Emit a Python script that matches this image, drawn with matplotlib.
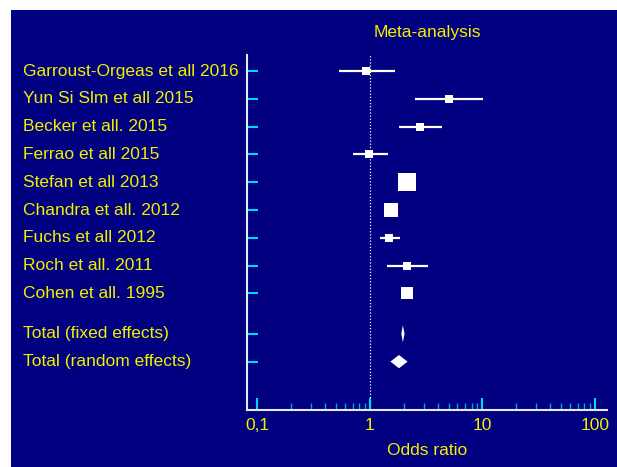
import matplotlib.pyplot as plt
from matplotlib.patches import Rectangle
from matplotlib.transforms import blended_transform_factory
from matplotlib.ticker import FixedLocator, NullFormatter

# Данные исследований
studies = ['Garroust-Orgeas et all 2016', 'Yun Si Slm et all 2015', 'Becker et all. 2015',
           'Ferrao et all 2015', 'Stefan et all 2013', 'Chandra et all. 2012',
           'Fuchs et all 2012', 'Roch et all. 2011', 'Cohen et all. 1995']
odds = [0.93, 5.04, 2.78, 0.99, 2.12, 1.55, 1.48, 2.12, 2.12]
ci_low = [0.53, 2.51, 1.82, 0.71, 1.98, 1.45, 1.22, 1.42, 2.02]
ci_high = [1.67, 10.2, 4.39, 1.44, 2.27, 1.65, 1.86, 3.26, 2.22]
box_sizes = [6, 6, 6, 6, 13, 10.5, 6, 6, 9]

totals = ['Total (fixed effects)', 'Total (random effects)']
tot_odds = [1.96, 1.81]
tot_low = [1.90, 1.52]
tot_high = [2.03, 2.16]
tot_half = [0.31, 0.24]

xticks = [0.1, 1, 10, 100]
xticklabels = ['0,1', '1', '10', '100']
xminor = [d * m for d in (0.1, 1, 10) for m in range(2, 10)]

navy = '#000080'
yellow = '#f0f000'
cyan = '#00d8f0'

fig = plt.figure(figsize=(6.17, 4.67), dpi=100)
fig.patch.set_facecolor('white')
fig.add_artist(Rectangle((11 / 617, 0), 1, 1 - 10 / 467, transform=fig.transFigure,
                         facecolor=navy, edgecolor='none', zorder=-5))

ax = fig.add_axes([247 / 617, 1 - 410 / 467, 360 / 617, 355 / 467])
ax.set_zorder(1)
ax.patch.set_alpha(0)
ax.set_xscale('log')
ax.set_xlim(0.0807, 128)

rows = list(range(len(studies)))
tot_rows = [9.45, 10.45]
ax.set_ylim(12.19, -0.576)

# Линия OR = 1
ax.axvline(1, color='white', linestyle=(0, (1, 1.5)), linewidth=0.9, zorder=1)

for y, o, lo, hi, s in zip(rows, odds, ci_low, ci_high, box_sizes):
    ax.plot([lo, hi], [y, y], color='white', linewidth=1.6, zorder=2, solid_capstyle='butt')
    ax.plot(o, y, marker='s', markersize=s, color='white', markeredgewidth=0, zorder=3)

for y, o, lo, hi, h in zip(tot_rows, tot_odds, tot_low, tot_high, tot_half):
    ax.fill([lo, o, hi, o], [y, y - h, y, y + h], color='white', linewidth=0, zorder=3)

# Оси
for side in ['top', 'right']:
    ax.spines[side].set_visible(False)
for side in ['left', 'bottom']:
    ax.spines[side].set_color('#e8e8f0')
    ax.spines[side].set_linewidth(1.5)

ax.yaxis.set_major_locator(FixedLocator(rows + tot_rows))
ax.yaxis.set_major_formatter(NullFormatter())
ax.tick_params(axis='y', direction='in', length=8, width=1.5, color=cyan)

ax.xaxis.set_major_locator(FixedLocator(xticks))
ax.set_xticklabels(xticklabels)
ax.xaxis.set_minor_locator(FixedLocator(xminor))
ax.xaxis.set_minor_formatter(NullFormatter())
ax.tick_params(axis='x', which='major', direction='in', length=9, width=1.5,
               color=cyan, labelcolor=yellow, labelsize=12.5, pad=6)
ax.tick_params(axis='x', which='minor', direction='in', length=5, width=1, color='#00a8d8')

trans = blended_transform_factory(fig.transFigure, ax.transData)
for y, name in zip(rows + tot_rows, studies + totals):
    ax.text(23 / 617, y, name, transform=trans, color=yellow, fontsize=12.5,
            family='Liberation Sans', ha='left', va='center', clip_on=False)

for lbl in ax.get_xticklabels():
    lbl.set_family('Liberation Sans')

ax.set_title('Meta-analysis', color=yellow, fontsize=12.5, family='Liberation Sans', pad=13)
ax.set_xlabel('Odds ratio', color=yellow, fontsize=12.5, family='Liberation Sans', labelpad=7)

fig.savefig('out.png', dpi=100, facecolor=fig.get_facecolor())
